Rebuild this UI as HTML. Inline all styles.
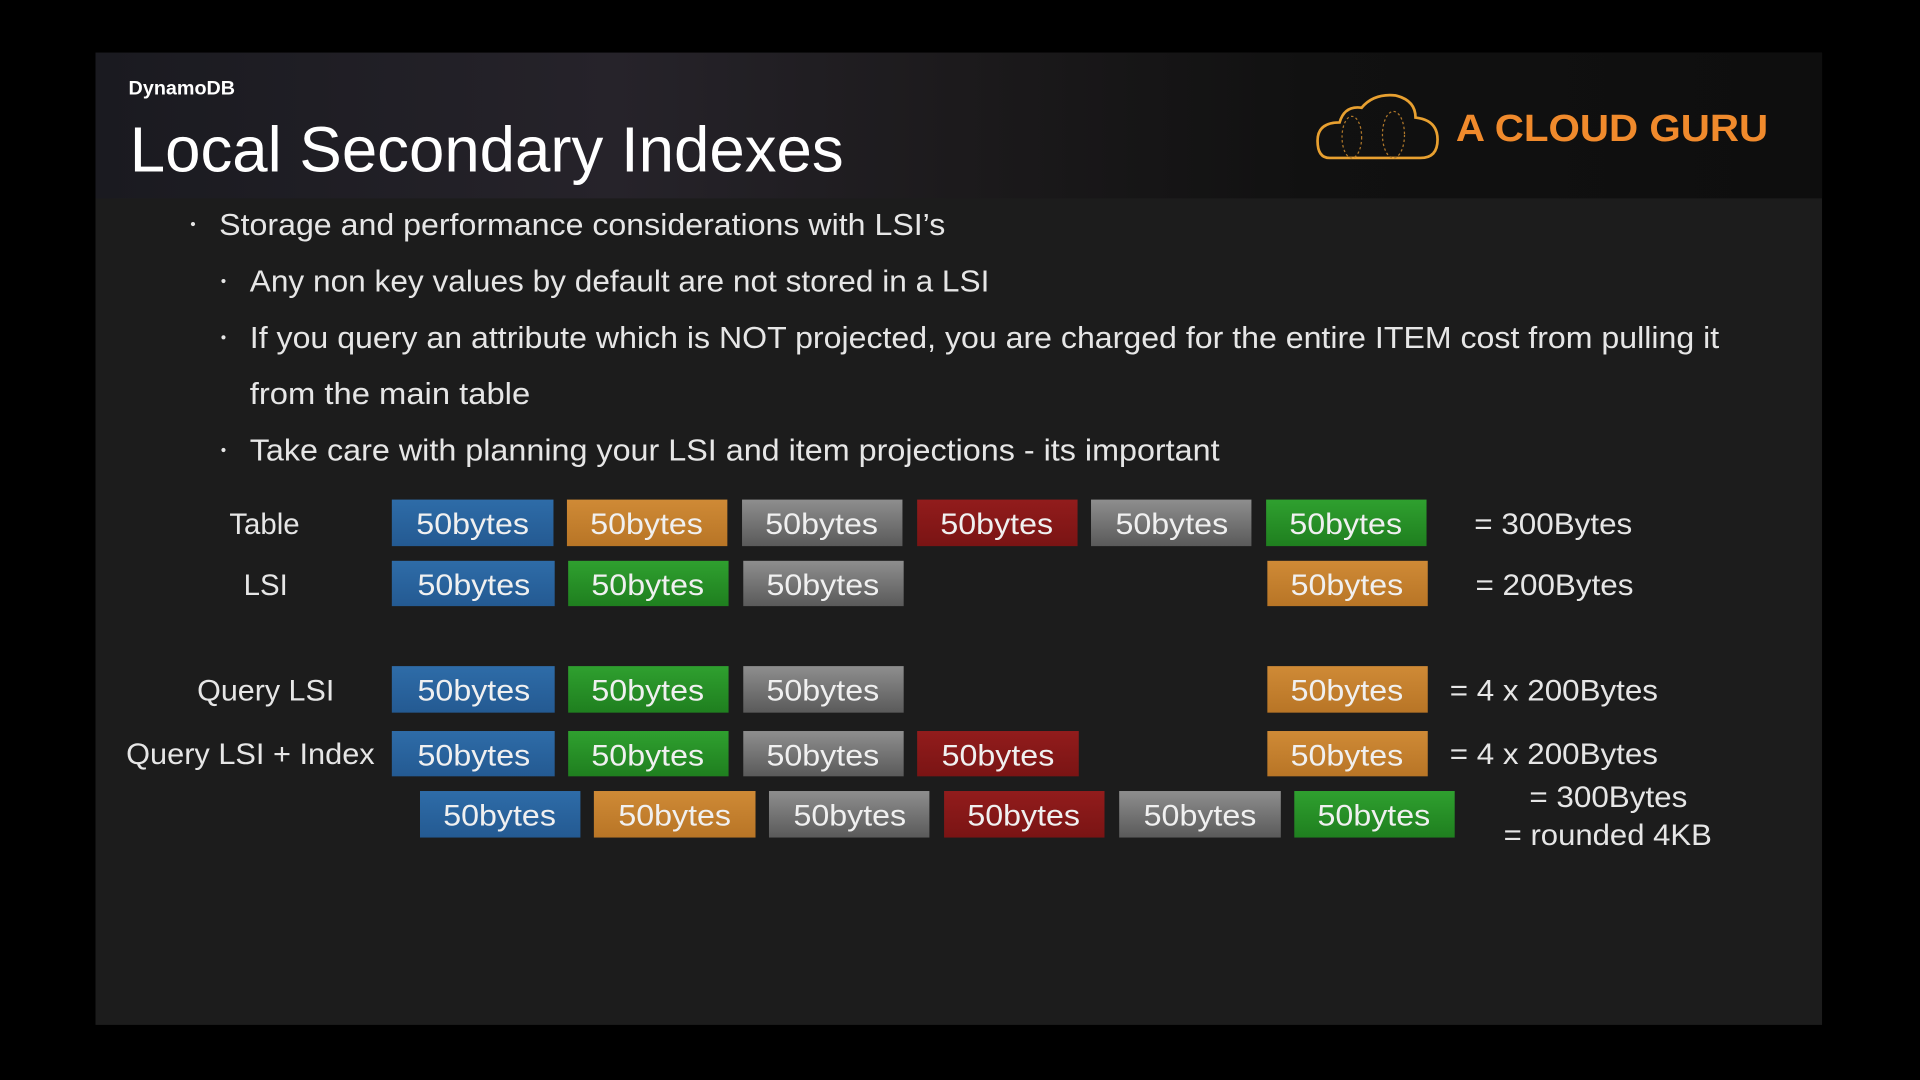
<!DOCTYPE html>
<html><head><meta charset="utf-8"><style>
html,body{margin:0;padding:0;background:#000;width:1920px;height:1080px;overflow:hidden}
svg{display:block}
text{font-family:"Liberation Sans",sans-serif}
</style></head><body>
<svg width="1920" height="1080" viewBox="0 0 1568 882" xmlns="http://www.w3.org/2000/svg">
<defs>
<linearGradient id="hdr" x1="0" y1="0" x2="1" y2="0">
<stop offset="0" stop-color="#1a1a20"/><stop offset="0.3" stop-color="#26232a"/><stop offset="0.5" stop-color="#1c1a1c"/><stop offset="0.7" stop-color="#111"/><stop offset="1" stop-color="#0e0e0e"/></linearGradient>
<linearGradient id="gr" x1="0" y1="0" x2="0" y2="1"><stop offset="0" stop-color="#8e8e8e"/><stop offset="1" stop-color="#5a5a5a"/></linearGradient>
<linearGradient id="bl" x1="0" y1="0" x2="0" y2="1"><stop offset="0" stop-color="#2e6ca8"/><stop offset="1" stop-color="#245a92"/></linearGradient>
<linearGradient id="or" x1="0" y1="0" x2="0" y2="1"><stop offset="0" stop-color="#cf8a36"/><stop offset="1" stop-color="#b87526"/></linearGradient>
<linearGradient id="rd" x1="0" y1="0" x2="0" y2="1"><stop offset="0" stop-color="#921c1c"/><stop offset="1" stop-color="#7a1414"/></linearGradient>
<linearGradient id="gn" x1="0" y1="0" x2="0" y2="1"><stop offset="0" stop-color="#2fa02f"/><stop offset="1" stop-color="#1f7f1f"/></linearGradient>
</defs>
<rect x="78" y="43" width="1410" height="794" fill="#1c1c1c"/>
<rect x="78" y="43" width="1410" height="119" fill="url(#hdr)"/>
<text x="105" y="77" font-size="16" font-weight="bold" fill="#fff" textLength="87" lengthAdjust="spacingAndGlyphs">DynamoDB</text>
<text x="106" y="140" font-size="52" fill="#fff" textLength="583" lengthAdjust="spacingAndGlyphs">Local Secondary Indexes</text>
<g fill="none" stroke="#e8a030" stroke-width="2.2">
<path d="M1086 129 Q1076 129 1076 115 Q1076 100 1094 100 Q1098 86 1112 88 Q1122 76 1140 78 Q1156 82 1156 96 Q1174 98 1174 114 Q1174 129 1160 129 Z"/>
</g>
<g fill="none" stroke="#b0782a" stroke-width="1" stroke-dasharray="2 2">
<ellipse cx="1104" cy="112" rx="8" ry="17"/><ellipse cx="1138" cy="110" rx="9" ry="19"/>
</g>
<text x="1189" y="115" font-size="31" font-weight="bold" fill="#f08a2c" textLength="255" lengthAdjust="spacingAndGlyphs">A CLOUD GURU</text>
<g fill="#e6e6e6">
<circle cx="157.6" cy="183" r="1.7"/>
<circle cx="182.5" cy="229.5" r="1.7"/>
<circle cx="182.5" cy="275.5" r="1.7"/>
<circle cx="182.5" cy="367.5" r="1.7"/>
</g>
<g fill="#e6e6e6" font-size="25">
<text x="179" y="192" textLength="593" lengthAdjust="spacingAndGlyphs">Storage and performance considerations with LSI’s</text>
<text x="204" y="238" textLength="604" lengthAdjust="spacingAndGlyphs">Any non key values by default are not stored in a LSI</text>
<text x="204" y="284" textLength="1200" lengthAdjust="spacingAndGlyphs">If you query an attribute which is NOT projected, you are charged for the entire ITEM cost from pulling it</text>
<text x="204" y="330" textLength="229" lengthAdjust="spacingAndGlyphs">from the main table</text>
<text x="204" y="376" textLength="792" lengthAdjust="spacingAndGlyphs">Take care with planning your LSI and item projections - its important</text>
</g>
<g font-size="24" fill="#e6e6e6">
<text x="216" y="436" text-anchor="middle">Table</text>
<text x="217" y="486" text-anchor="middle">LSI</text>
<text x="217" y="572" text-anchor="middle" textLength="112" lengthAdjust="spacingAndGlyphs">Query LSI</text>
<text x="103" y="624" textLength="203" lengthAdjust="spacingAndGlyphs">Query LSI + Index</text>
<text x="1204" y="436" textLength="129" lengthAdjust="spacingAndGlyphs">= 300Bytes</text>
<text x="1205" y="486" textLength="129" lengthAdjust="spacingAndGlyphs">= 200Bytes</text>
<text x="1184" y="572" textLength="170" lengthAdjust="spacingAndGlyphs">= 4 x 200Bytes</text>
<text x="1184" y="624" textLength="170" lengthAdjust="spacingAndGlyphs">= 4 x 200Bytes</text>
<text x="1249" y="659" textLength="129" lengthAdjust="spacingAndGlyphs">= 300Bytes</text>
<text x="1228" y="690" textLength="170" lengthAdjust="spacingAndGlyphs">= rounded 4KB</text>
</g>
<g font-size="24" fill="#f0f0f0" text-anchor="middle">
<rect x="320" y="408" width="132" height="38" fill="url(#bl)"/><text x="386" y="436" textLength="92" lengthAdjust="spacingAndGlyphs">50bytes</text>
<rect x="463" y="408" width="131" height="38" fill="url(#or)"/><text x="528" y="436" textLength="92" lengthAdjust="spacingAndGlyphs">50bytes</text>
<rect x="606" y="408" width="131" height="38" fill="url(#gr)"/><text x="671" y="436" textLength="92" lengthAdjust="spacingAndGlyphs">50bytes</text>
<rect x="749" y="408" width="131" height="38" fill="url(#rd)"/><text x="814" y="436" textLength="92" lengthAdjust="spacingAndGlyphs">50bytes</text>
<rect x="891" y="408" width="131" height="38" fill="url(#gr)"/><text x="957" y="436" textLength="92" lengthAdjust="spacingAndGlyphs">50bytes</text>
<rect x="1034" y="408" width="131" height="38" fill="url(#gn)"/><text x="1099" y="436" textLength="92" lengthAdjust="spacingAndGlyphs">50bytes</text>
<rect x="320" y="458" width="133" height="37" fill="url(#bl)"/><text x="387" y="486" textLength="92" lengthAdjust="spacingAndGlyphs">50bytes</text>
<rect x="464" y="458" width="131" height="37" fill="url(#gn)"/><text x="529" y="486" textLength="92" lengthAdjust="spacingAndGlyphs">50bytes</text>
<rect x="607" y="458" width="131" height="37" fill="url(#gr)"/><text x="672" y="486" textLength="92" lengthAdjust="spacingAndGlyphs">50bytes</text>
<rect x="1035" y="458" width="131" height="37" fill="url(#or)"/><text x="1100" y="486" textLength="92" lengthAdjust="spacingAndGlyphs">50bytes</text>
<rect x="320" y="544" width="133" height="38" fill="url(#bl)"/><text x="387" y="572" textLength="92" lengthAdjust="spacingAndGlyphs">50bytes</text>
<rect x="464" y="544" width="131" height="38" fill="url(#gn)"/><text x="529" y="572" textLength="92" lengthAdjust="spacingAndGlyphs">50bytes</text>
<rect x="607" y="544" width="131" height="38" fill="url(#gr)"/><text x="672" y="572" textLength="92" lengthAdjust="spacingAndGlyphs">50bytes</text>
<rect x="1035" y="544" width="131" height="38" fill="url(#or)"/><text x="1100" y="572" textLength="92" lengthAdjust="spacingAndGlyphs">50bytes</text>
<rect x="320" y="597" width="133" height="37" fill="url(#bl)"/><text x="387" y="625" textLength="92" lengthAdjust="spacingAndGlyphs">50bytes</text>
<rect x="464" y="597" width="131" height="37" fill="url(#gn)"/><text x="529" y="625" textLength="92" lengthAdjust="spacingAndGlyphs">50bytes</text>
<rect x="607" y="597" width="131" height="37" fill="url(#gr)"/><text x="672" y="625" textLength="92" lengthAdjust="spacingAndGlyphs">50bytes</text>
<rect x="749" y="597" width="132" height="37" fill="url(#rd)"/><text x="815" y="625" textLength="92" lengthAdjust="spacingAndGlyphs">50bytes</text>
<rect x="1035" y="597" width="131" height="37" fill="url(#or)"/><text x="1100" y="625" textLength="92" lengthAdjust="spacingAndGlyphs">50bytes</text>
<rect x="343" y="646" width="131" height="38" fill="url(#bl)"/><text x="408" y="674" textLength="92" lengthAdjust="spacingAndGlyphs">50bytes</text>
<rect x="485" y="646" width="132" height="38" fill="url(#or)"/><text x="551" y="674" textLength="92" lengthAdjust="spacingAndGlyphs">50bytes</text>
<rect x="628" y="646" width="131" height="38" fill="url(#gr)"/><text x="694" y="674" textLength="92" lengthAdjust="spacingAndGlyphs">50bytes</text>
<rect x="771" y="646" width="131" height="38" fill="url(#rd)"/><text x="836" y="674" textLength="92" lengthAdjust="spacingAndGlyphs">50bytes</text>
<rect x="914" y="646" width="132" height="38" fill="url(#gr)"/><text x="980" y="674" textLength="92" lengthAdjust="spacingAndGlyphs">50bytes</text>
<rect x="1057" y="646" width="131" height="38" fill="url(#gn)"/><text x="1122" y="674" textLength="92" lengthAdjust="spacingAndGlyphs">50bytes</text>
</g>
</svg>
</body></html>
